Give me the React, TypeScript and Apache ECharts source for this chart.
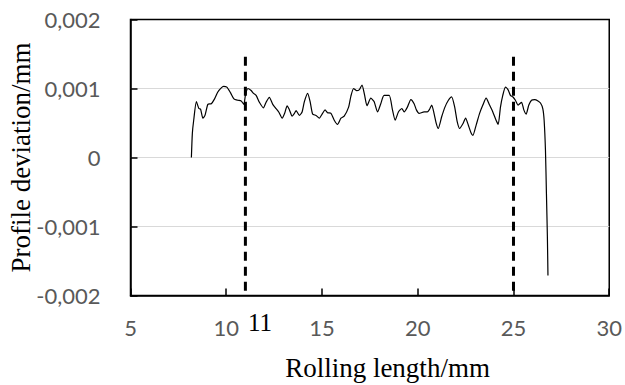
import React, { useEffect, useRef } from "react";
import * as echarts from "echarts";

const rollingLength: number[] = [
  8.18, 8.23, 8.3, 8.44, 8.57, 8.66, 8.78, 8.89, 9.04, 9.22, 9.39, 9.56, 9.74, 9.86,
  10.03, 10.22, 10.4, 10.6, 10.78, 10.92, 11.0, 11.13, 11.3, 11.42, 11.56, 11.73,
  11.94, 12.08, 12.25, 12.43, 12.57, 12.74, 12.92, 13.05, 13.18, 13.3, 13.44, 13.56,
  13.65, 13.82, 13.96, 14.08, 14.25, 14.38, 14.51, 14.69, 14.86, 15.03, 15.16, 15.29,
  15.47, 15.64, 15.81, 15.99, 16.16, 16.39, 16.51, 16.65, 16.8, 16.94, 17.09, 17.22,
  17.35, 17.55, 17.72, 17.9, 18.07, 18.24, 18.51, 18.68, 18.82, 18.99, 19.17, 19.29,
  19.46, 19.64, 19.81, 19.93, 20.07, 20.33, 20.5, 20.62, 20.73, 20.85, 20.97, 21.07,
  21.25, 21.42, 21.6, 21.77, 21.93, 22.06, 22.19, 22.36, 22.5, 22.64, 22.78, 22.88,
  23.05, 23.23, 23.4, 23.57, 23.75, 23.92, 24.09, 24.2, 24.32, 24.44, 24.58, 24.72,
  24.84, 24.96, 25.1, 25.24, 25.42, 25.54, 25.66, 25.8, 25.94, 26.11, 26.28, 26.41,
  26.53, 26.6, 26.67, 26.72, 26.77, 26.8,
];

const profileDeviation: number[] = [
  0, 0.00035, 0.00054, 0.00081, 0.00071, 0.0007, 0.00057, 0.00061, 0.00077, 0.00078,
  0.00085, 0.00095, 0.00101, 0.00103, 0.00102, 0.00094, 0.00085, 0.00083, 0.00082,
  0.00077, 0.0009, 0.001, 0.00097, 0.00093, 0.0009, 0.0008, 0.00072, 0.0008, 0.00087,
  0.00077, 0.00072, 0.00066, 0.00057, 0.00064, 0.00075, 0.00069, 0.0006, 0.00064,
  0.00068, 0.00061, 0.00066, 0.00081, 0.00093, 0.00081, 0.00063, 0.00061, 0.00057,
  0.00064, 0.00069, 0.00065, 0.00064, 0.00054, 0.00048, 0.00057, 0.0006, 0.00073,
  0.00089, 0.001, 0.00097, 0.00098, 0.00105, 0.00091, 0.00075, 0.00086, 0.00081,
  0.00066, 0.00078, 0.0009, 0.0009, 0.00069, 0.00054, 0.00066, 0.00071, 0.00066,
  0.00073, 0.00084, 0.00078, 0.00069, 0.00064, 0.00066, 0.00066, 0.0007, 0.00076,
  0.00064, 0.00049, 0.00042, 0.00059, 0.00073, 0.00083, 0.00088, 0.00073, 0.00052,
  0.00042, 0.00049, 0.00057, 0.00047, 0.00036, 0.00032, 0.00047, 0.00064, 0.00076,
  0.00086, 0.00076, 0.00066, 0.00054, 0.00048, 0.00073, 0.0009, 0.00102, 0.00098,
  0.0009, 0.00088, 0.00083, 0.00076, 0.0008, 0.00069, 0.00063, 0.00076, 0.00083,
  0.00084, 0.00082, 0.00079, 0.00071, 0.00054, 0.0001, -0.00052, -0.00115, -0.00171,
];

const boundaryPositions: number[] = [11, 25];
const boundaryTop = 0.00146;
const boundaryBottom = -0.002;

const xTicks: number[] = [5, 10, 15, 20, 25, 30];
const xTickLabels: string[] = ["5", "10", "15", "20", "25", "30"];
const yTicks: number[] = [-0.002, -0.001, 0, 0.001, 0.002];
const yTickLabels: string[] = ["-0,002", "-0,001", "0", "0,001", "0,002"];

const xTitle = "Rolling length/mm";
const yTitle = "Profile deviation/mm";
const boundaryLabel = "11";

const labelFor = (v: number, ticks: number[], labels: string[]) => {
  let best = 0;
  for (let i = 1; i < ticks.length; i++) {
    if (Math.abs(ticks[i] - v) < Math.abs(ticks[best] - v)) best = i;
  }
  return labels[best];
};

export default function App() {
  const ref = useRef<HTMLDivElement>(null);

  useEffect(() => {
    if (!ref.current) return;
    const chart = echarts.init(ref.current, undefined, { renderer: "svg" });

    const profileData = rollingLength.map((x, i) => [x, profileDeviation[i]]);
    const boundarySeries = boundaryPositions.map((x) => ({
      type: "line",
      data: [
        [x, boundaryTop],
        [x, boundaryBottom],
      ],
      symbol: "none",
      silent: true,
      lineStyle: { color: "#000", width: 3, type: [9, 6] },
      z: 3,
    }));

    chart.setOption({
      animation: false,
      backgroundColor: "#ffffff",
      grid: {
        left: 130.5,
        right: 14.5,
        top: 19.5,
        bottom: 89.5,
        show: true,
        borderColor: "#000",
        borderWidth: 1.5,
        backgroundColor: "transparent",
      },
      xAxis: {
        type: "value",
        min: 5,
        max: 30,
        interval: 5,
        axisLine: { show: true, onZero: false, lineStyle: { color: "#000", width: 1.5 } },
        axisTick: { show: true, inside: true, length: 7, lineStyle: { color: "#000", width: 1.5 } },
        splitLine: { show: false },
        axisLabel: {
          margin: 21,
          color: "#595959",
          fontFamily: "Lato",
          fontSize: 22,
          formatter: (v: number) => labelFor(v, xTicks, xTickLabels),
        },
      },
      yAxis: {
        type: "value",
        min: -0.002,
        max: 0.002,
        interval: 0.001,
        axisLine: { show: true, onZero: false, lineStyle: { color: "#000", width: 1.5 } },
        axisTick: { show: true, inside: true, length: 7, lineStyle: { color: "#000", width: 1.5 } },
        splitLine: {
          show: true,
          showMinLine: false,
          showMaxLine: false,
          lineStyle: { color: "#d9d9d9", width: 1 },
        },
        axisLabel: {
          margin: 30,
          color: "#595959",
          fontFamily: "Lato",
          fontSize: 22,
          formatter: (v: number) => labelFor(v, yTicks, yTickLabels),
        },
      },
      graphic: [
        {
          type: "text",
          x: 387.5,
          y: 368,
          style: {
            text: xTitle,
            font: '27px "Liberation Serif", "Times New Roman", serif',
            fill: "#000",
            textAlign: "center",
            textVerticalAlign: "middle",
          },
        },
        {
          type: "text",
          x: 21,
          y: 157.5,
          rotation: Math.PI / 2,
          style: {
            text: yTitle,
            font: '27px "Liberation Serif", "Times New Roman", serif',
            fill: "#000",
            textAlign: "center",
            textVerticalAlign: "middle",
          },
        },
        {
          type: "text",
          x: 260,
          y: 322,
          style: {
            text: boundaryLabel,
            font: '25px "Liberation Serif", "Times New Roman", serif',
            fill: "#000",
            textAlign: "center",
            textVerticalAlign: "middle",
          },
        },
      ],
      series: [
        {
          type: "line",
          data: profileData,
          symbol: "none",
          smooth: 0.2,
          lineStyle: { color: "#000", width: 1.2 },
          z: 4,
        },
        ...boundarySeries,
      ],
    });

    return () => chart.dispose();
  }, []);

  return <div ref={ref} style={{ width: 625, height: 385, position: "absolute", left: 0, top: 0 }} />;
}
